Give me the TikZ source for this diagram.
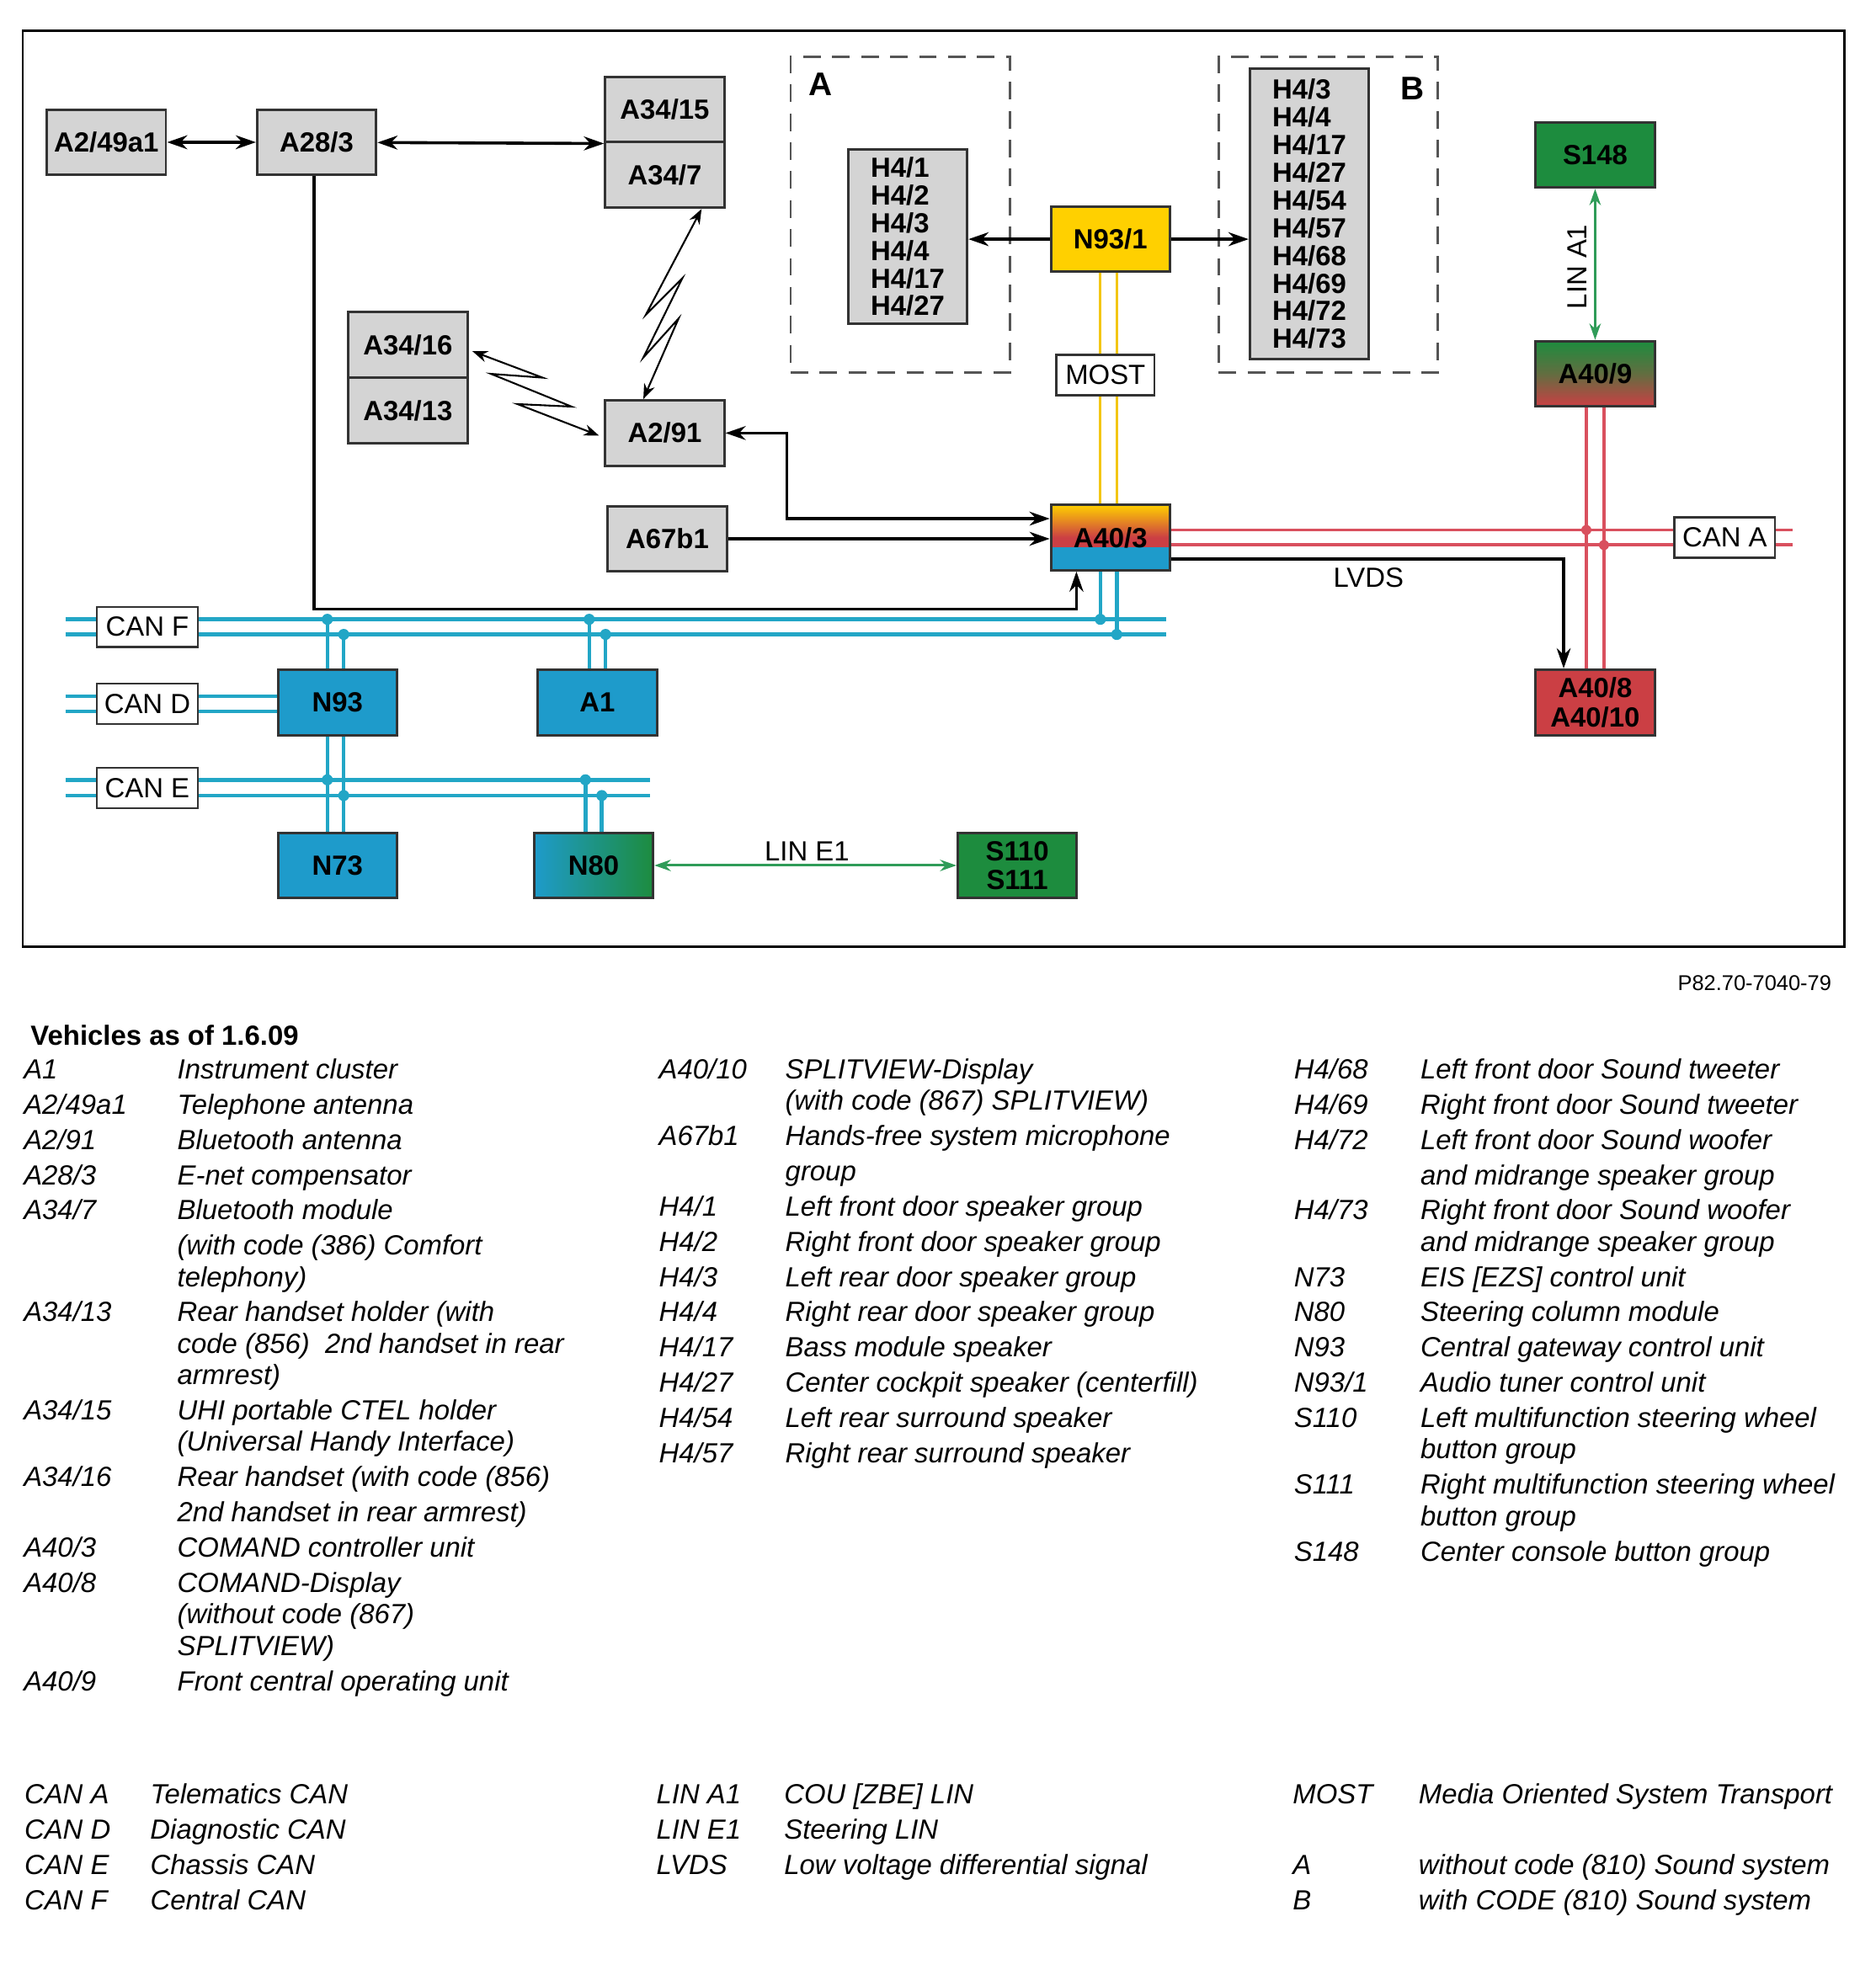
\documentclass[tikz,border=0pt]{standalone}
\usepackage{fontspec}
\setmainfont{Liberation Sans}
\usetikzlibrary{arrows.meta}
\definecolor{unitgray}{HTML}{D4D4D4}
\definecolor{edgegray}{HTML}{333333}
\definecolor{ctrlblue}{HTML}{1E9BCB}
\definecolor{busblue}{HTML}{22A6C6}
\definecolor{switchgreen}{HTML}{1D8C3E}
\definecolor{lingreen}{HTML}{2F9C58}
\definecolor{dispred}{HTML}{CB3F44}
\definecolor{canred}{HTML}{D9505E}
\definecolor{tuneryellow}{HTML}{FFD000}
\definecolor{mostyellow}{HTML}{F3C613}
\definecolor{dashgray}{HTML}{555555}

\begin{document}
\begin{tikzpicture}[x=0.5pt,y=-0.5pt,
    unit/.style={draw=edgegray,line width=1pt,fill=unitgray,minimum width=47.25pt,minimum height=26pt,inner sep=0pt,font=\bfseries\fontsize{11}{11.5}\selectfont},
    speakers/.style={unit,align=left,font=\bfseries\fontsize{11}{11}\selectfont},
    variant/.style={draw=dashgray,line width=1pt,dash pattern=on 7pt off 4.5pt,minimum width=87pt,minimum height=125.5pt,inner sep=0pt},
    busname/.style={draw=edgegray,line width=0.8pt,fill=white,minimum width=40pt,minimum height=16pt,inner sep=0pt,font=\fontsize{11}{11}\selectfont},
    wire/.style={line width=1.2pt,-{Stealth[length=8pt,width=5.5pt]}},
    twoway/.style={line width=1.2pt,{Stealth[length=8pt,width=5.5pt]}-{Stealth[length=8pt,width=5.5pt]}},
    radio/.style={line width=0.7pt,{Stealth[length=6pt,width=4.5pt]}-{Stealth[length=6pt,width=4.5pt]}},
    bus/.style={busblue,line width=1.5pt},
    telematics/.style={canred,line width=1.3pt},
    most/.style={mostyellow,line width=1pt},
    lin/.style={lingreen,line width=1pt,{Stealth[length=6.5pt,width=4.5pt]}-{Stealth[length=6.5pt,width=4.5pt]}},
    tag/.style={font=\fontsize{11}{11}\selectfont,inner sep=0pt},
    keytab/.style={anchor=base west,inner sep=0pt,font=\itshape\fontsize{11}{14}\selectfont}]
    \useasboundingbox (0,0) rectangle (1490,1565);%
    \draw[line width=0.8pt] (18,24.5) rectangle (1465,752);%

    \node[unit] (A249a1) at (84.5,113) {A2/49a1};%
    \node[unit] (A283) at (251.5,113) {A28/3};%
    \node[unit] (A3415) at (528,87) {A34/15};%
    \node[unit] (A347) at (528,139) {A34/7};%
    \node[unit] (A3416) at (324,274) {A34/16};%
    \node[unit] (A3413) at (324,326) {A34/13};%
    \node[unit] (A291) at (528,344) {A2/91};%
    \node[unit] (A67b1) at (530,428) {A67b1};%
    \node[variant] (grpA) at (715,170.5) {};%
    \node[variant] (grpB) at (1055,170.5) {};%
    \node[speakers,minimum height=69pt] (H4A) at (721,188) {H4/1\\H4/2\\H4/3\\H4/4\\H4/17\\H4/27};%
    \node[speakers,minimum height=115.5pt] (H4B) at (1040,170) {H4/3\\H4/4\\H4/17\\H4/27\\H4/54\\H4/57\\H4/68\\H4/69\\H4/72\\H4/73};%
    \node[unit,fill=tuneryellow] (N931) at (882,190) {N93/1};%
    \node[unit,top color=tuneryellow,bottom color=dispred,middle color=dispred,
      path picture={\fill[top color=dispred,bottom color=ctrlblue,middle color=ctrlblue] ([yshift=-4pt]path picture bounding box.west) rectangle (path picture bounding box.south east);}] (A403) at (882,427) {A40/3};%
    \node[unit,fill=switchgreen] (S148) at (1267,123) {S148};%
    \node[unit,top color=switchgreen,bottom color=dispred,middle color=switchgreen!60!dispred] (A409) at (1267,297) {A40/9};%
    \node[unit,fill=dispred,align=center] (A408) at (1267,558) {A40/8\\A40/10};%
    \node[unit,fill=ctrlblue] (N93) at (268,558) {N93};%
    \node[unit,fill=ctrlblue] (A1) at (474.5,558) {A1};%
    \node[unit,fill=ctrlblue] (N73) at (268,687.5) {N73};%
    \node[unit,left color=ctrlblue,right color=switchgreen] (N80) at (471.5,687.5) {N80};%
    \node[unit,fill=switchgreen,align=center] (S110) at (808,687.5) {S110\\S111};%

    \coordinate (canF1w) at (52,492);%
    \coordinate (canF1e) at (926,492);%
    \coordinate (canF2w) at (52,504);%
    \coordinate (canF2e) at (926,504);%
    \coordinate (canD1w) at (52,553);%
    \coordinate (canD2w) at (52,565);%
    \coordinate (canE1w) at (52,619.5);%
    \coordinate (canE1e) at (516,619.5);%
    \coordinate (canE2w) at (52,632);%
    \coordinate (canE2e) at (516,632);%
    \coordinate (canA1e) at (1424,421);%
    \coordinate (canA2e) at (1424,433);%
    \coordinate (tapN93a) at (260,492);%
    \coordinate (tapN93b) at (273,504);%
    \coordinate (tapN93c) at (260,619.5);%
    \coordinate (tapN93d) at (273,632);%
    \coordinate (tapA1a) at (468,492);%
    \coordinate (tapA1b) at (481,504);%
    \coordinate (tapN80a) at (465,619.5);%
    \coordinate (tapN80b) at (478,632);%
    \coordinate (tapA403a) at (874,492);%
    \coordinate (tapA403b) at (887,504);%
    \coordinate (tapA409a) at (1260,421);%
    \coordinate (tapA409b) at (1274,433);%

    \draw[twoway] (A249a1) -- (A283);%
    \draw[twoway] (A283) -- (A3415.south west);%
    \draw[wire] ([xshift=-1pt]A283.south) -- ++(0,344) -| ([xshift=-13.5pt]A403.south);%
    \draw[twoway] (A291.east) -| (625,412) -- ([yshift=7.5pt]A403.west);%
    \draw[wire] (A67b1.east) -- (A67b1.east -| A403.west);%
    \draw[wire] (N931.west) -- (N931.west -| H4A.east);%
    \draw[wire] (N931.east) -- (N931.east -| H4B.west);%
    \draw[radio] ([xshift=-9.5pt]A347.south east) -- (513,250) -- (542,221) -- (511,284) -- (539,253) -- ([xshift=-8.5pt]A291.north);%
    \draw[radio] ([xshift=1.5pt,yshift=-2.5pt]A3416.east) -- (431,300) -- (390,297) -- (454,323) -- (411,321) -- ([xshift=-2pt,yshift=-1pt]A291.west);%
    \draw[most] ([xshift=-4pt]N931.south) -- ([xshift=-4pt]A403.north);%
    \draw[most] ([xshift=2.5pt]N931.south) -- ([xshift=2.5pt]A403.north);%
    \draw[wire] ([yshift=-8.5pt]A403.east) -| ([xshift=-12.5pt]A408.north);%
    \draw[lin] (S148) -- (A409);%
    \draw[lin] (N80) -- (S110);%

    \draw[bus] (canF1w) -- (canF1e);%
    \draw[bus] (canF2w) -- (canF2e);%
    \draw[bus] (canD1w) -- (canD1w -| N93.west);%
    \draw[bus] (canD2w) -- (canD2w -| N93.west);%
    \draw[bus] (canE1w) -- (canE1e);%
    \draw[bus] (canE2w) -- (canE2e);%
    \draw[bus] (tapN93a) -- ([xshift=-4pt]N93.north);%
    \draw[bus] (tapN93b) -- ([xshift=2.5pt]N93.north);%
    \draw[bus] ([xshift=-4pt]N93.south) -- ([xshift=-4pt]N73.north);%
    \draw[bus] ([xshift=2.5pt]N93.south) -- ([xshift=2.5pt]N73.north);%
    \draw[bus] (tapA1a) -- ([xshift=-3.25pt]A1.north);%
    \draw[bus] (tapA1b) -- ([xshift=3.25pt]A1.north);%
    \draw[bus] (tapN80a) -- ([xshift=-3.25pt]N80.north);%
    \draw[bus] (tapN80b) -- ([xshift=3.25pt]N80.north);%
    \draw[bus] ([xshift=-4pt]A403.south) -- (tapA403a);%
    \draw[bus] ([xshift=2.5pt]A403.south) -- (tapA403b);%
    \fill[busblue] (tapN93a) circle (2.2pt);%
    \fill[busblue] (tapN93b) circle (2.2pt);%
    \fill[busblue] (tapN93c) circle (2.2pt);%
    \fill[busblue] (tapN93d) circle (2.2pt);%
    \fill[busblue] (tapA1a) circle (2.2pt);%
    \fill[busblue] (tapA1b) circle (2.2pt);%
    \fill[busblue] (tapN80a) circle (2.2pt);%
    \fill[busblue] (tapN80b) circle (2.2pt);%
    \fill[busblue] (tapA403a) circle (2.2pt);%
    \fill[busblue] (tapA403b) circle (2.2pt);%

    \draw[telematics] ([yshift=3pt]A403.east) -- (canA1e);%
    \draw[telematics] ([yshift=-3pt]A403.east) -- (canA2e);%
    \draw[telematics] ([xshift=-3.5pt]A409.south) -- ([xshift=-3.5pt]A408.north);%
    \draw[telematics] ([xshift=3.5pt]A409.south) -- ([xshift=3.5pt]A408.north);%
    \fill[canred] (tapA409a) circle (2pt);%
    \fill[canred] (tapA409b) circle (2pt);%

    \node[busname] (lblCanF) at (117,498) {CAN F};%
    \node[busname] (lblCanD) at (117,559) {CAN D};%
    \node[busname] (lblCanE) at (117,626) {CAN E};%
    \node[busname] (lblCanA) at (1370,427) {CAN A};%
    \node[busname,minimum width=39pt] (lblMost) at (878,298) {MOST};%
    \node[tag] (lblLvds) at (1087,459) {LVDS};%
    \node[tag,rotate=90] (lblLinA1) at (1252.5,212) {LIN A1};%
    \node[tag] (lblLinE1) at (641,676) {LIN E1};%
    \node[font=\bfseries\fontsize{13}{13}\selectfont,inner sep=0pt] (varA) at (652,67) {A};%
    \node[font=\bfseries\fontsize{13}{13}\selectfont,inner sep=0pt] (varB) at (1122,70) {B};%
    \node[anchor=base east,inner sep=0pt,font=\fontsize{8.5}{8.5}\selectfont] (figNo) at (1455,787) {P82.70-7040-79};%

    \node[anchor=base west,inner sep=0pt,font=\bfseries\fontsize{11}{11}\selectfont] (vehicles) at (24,830) {Vehicles as of 1.6.09};%
    \node[keytab] (keyLeft) at (18.5,857) {\begin{tabular}[t]{@{}p{61pt}@{}l@{}}
    A1 & Instrument cluster\\
    A2/49a1 & Telephone antenna\\
    A2/91 & Bluetooth antenna\\
    A28/3 & E-net compensator\\
    A34/7 & Bluetooth module\\
    & (with code (386) Comfort\\[-1.5pt]
    & telephony)\\
    A34/13 & Rear handset holder (with\\[-1.5pt]
    & code (856)~~2nd handset in rear\\[-1.5pt]
    & armrest)\\
    A34/15 & UHI portable CTEL holder\\[-1.5pt]
    & (Universal Handy Interface)\\
    A34/16 & Rear handset (with code (856)\\
    & 2nd handset in rear armrest)\\
    A40/3 & COMAND controller unit\\
    A40/8 & COMAND-Display\\[-1.5pt]
    & (without code (867)\\[-1.5pt]
    & SPLITVIEW)\\
    A40/9 & Front central operating unit
    \end{tabular}};%
    \node[keytab] (keyMid) at (523,857) {\begin{tabular}[t]{@{}p{50.2pt}@{}l@{}}
    A40/10 & SPLITVIEW-Display\\[-1.5pt]
    & (with code (867) SPLITVIEW)\\
    A67b1 & Hands-free system microphone\\
    & group\\
    H4/1 & Left front door speaker group\\
    H4/2 & Right front door speaker group\\
    H4/3 & Left rear door speaker group\\
    H4/4 & Right rear door speaker group\\
    H4/17 & Bass module speaker\\
    H4/27 & Center cockpit speaker (centerfill)\\
    H4/54 & Left rear surround speaker\\
    H4/57 & Right rear surround speaker
    \end{tabular}};%
    \node[keytab] (keyRight) at (1027.5,857) {\begin{tabular}[t]{@{}p{50.25pt}@{}l@{}}
    H4/68 & Left front door Sound tweeter\\
    H4/69 & Right front door Sound tweeter\\
    H4/72 & Left front door Sound woofer\\
    & and midrange speaker group\\
    H4/73 & Right front door Sound woofer\\[-1.5pt]
    & and midrange speaker group\\
    N73 & EIS [EZS] control unit\\
    N80 & Steering column module\\
    N93 & Central gateway control unit\\
    N93/1 & Audio tuner control unit\\
    S110 & Left multifunction steering wheel\\[-1.5pt]
    & button group\\
    S111 & Right multifunction steering wheel\\[-1.5pt]
    & button group\\
    S148 & Center console button group
    \end{tabular}};%
    \node[keytab] (busKeyLeft) at (19,1433) {\begin{tabular}[t]{@{}p{50pt}@{}l@{}}
    CAN A & Telematics CAN\\
    CAN D & Diagnostic CAN\\
    CAN E & Chassis CAN\\
    CAN F & Central CAN
    \end{tabular}};%
    \node[keytab] (busKeyMid) at (521,1433) {\begin{tabular}[t]{@{}p{50.75pt}@{}l@{}}
    LIN A1 & COU [ZBE] LIN\\
    LIN E1 & Steering LIN\\
    LVDS & Low voltage differential signal
    \end{tabular}};%
    \node[keytab] (busKeyRight) at (1026.5,1433) {\begin{tabular}[t]{@{}p{50pt}@{}l@{}}
    MOST & Media Oriented System Transport\\
    & \\
    A & without code (810) Sound system\\
    B & with CODE (810) Sound system
    \end{tabular}};%
  \end{tikzpicture}
\end{document}
